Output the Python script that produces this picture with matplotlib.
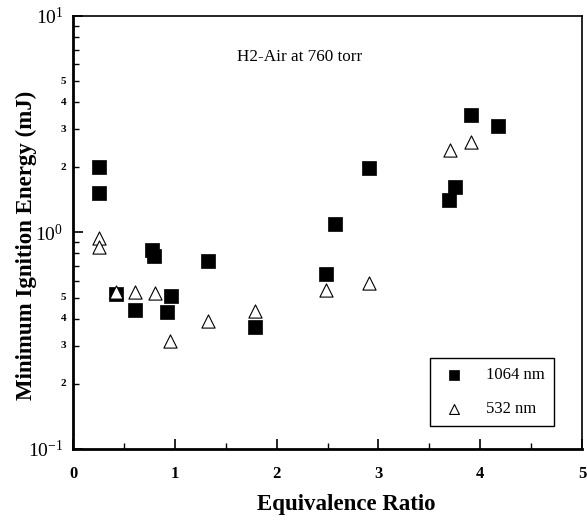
import matplotlib
matplotlib.use("Agg")
import matplotlib.pyplot as plt
from matplotlib.ticker import FixedLocator, NullFormatter

plt.rcParams['font.family'] = ['Liberation Serif', 'DejaVu Serif']
plt.rcParams['mathtext.fontset'] = 'custom'
plt.rcParams['mathtext.rm'] = 'Liberation Serif'

# 1064 nm (filled squares)
phi_1064 = [0.255, 0.255, 0.42, 0.61, 0.78, 0.80, 0.92, 0.96, 1.33, 1.79,
            2.49, 2.57, 2.91, 3.69, 3.75, 3.91, 4.17]
mie_1064 = [2.01, 1.52, 0.52, 0.44, 0.83, 0.78, 0.43, 0.51, 0.74, 0.366,
            0.64, 1.09, 1.99, 1.42, 1.62, 3.49, 3.10]

# 532 nm (open triangles)
phi_532 = [0.255, 0.255, 0.42, 0.61, 0.805, 0.956, 1.33, 1.79, 2.49, 2.91,
           3.70, 3.91]
mie_532 = [0.94, 0.86, 0.533, 0.533, 0.524, 0.315, 0.39, 0.435, 0.543, 0.585,
           2.40, 2.61]

x_ticks = [0, 1, 2, 3, 4, 5]
y_major = [0.1, 1, 10]
y_major_labels = [r'$\mathregular{10^{-1}}$', r'$\mathregular{10^{0}}$', r'$\mathregular{10^{1}}$']
y_small = [0.2, 0.3, 0.4, 0.5, 2, 3, 4, 5]
y_small_labels = ['2', '3', '4', '5', '2', '3', '4', '5']

fig = plt.figure(figsize=(5.87, 5.21), dpi=100)
ax = fig.add_axes([0.1244, 0.1382, 0.8671, 0.8311])

ax.scatter(phi_1064, mie_1064, marker='s', s=90, c='black', edgecolors='black',
           linewidths=0.5, label='1064 nm', zorder=3)
ax.scatter(phi_532, mie_532, marker='^', s=90, facecolors='white', edgecolors='black',
           linewidths=0.8, label='532 nm', zorder=4)

ax.set_yscale('log')
ax.set_xlim(0, 5)
ax.set_ylim(0.1, 10)

ax.set_xticks(x_ticks)
ax.set_xticklabels([str(v) for v in x_ticks], fontsize=12, fontweight='bold')
ax.xaxis.set_minor_locator(FixedLocator([0.5, 1.5, 2.5, 3.5, 4.5]))

ax.yaxis.set_major_locator(FixedLocator(y_major))
ax.set_yticklabels(y_major_labels, fontsize=14)
minors = [m * d for d in (0.1, 1) for m in range(2, 10)]
ax.yaxis.set_minor_locator(FixedLocator(minors))
ax.yaxis.set_minor_formatter(NullFormatter())
for v, lab in zip(y_small, y_small_labels):
    ax.annotate(lab, xy=(0, v), xycoords=ax.get_yaxis_transform(),
                xytext=(-5, 0), textcoords='offset points',
                ha='right', va='center', fontsize=8, fontweight='bold')

ax.tick_params(axis='both', which='major', direction='in', length=7, width=1.2,
               top=False, right=False)
ax.tick_params(axis='both', which='minor', direction='in', length=4, width=1.0,
               top=False, right=False)
ax.tick_params(axis='x', which='major', pad=12)
ax.tick_params(axis='y', which='major', pad=7)
for side in ['left', 'bottom']:
    ax.spines[side].set_linewidth(2)
for side in ['top', 'right']:
    ax.spines[side].set_linewidth(1.2)

ax.set_xlabel('Equivalence Ratio', fontsize=16.5, fontweight='bold')
ax.xaxis.set_label_coords(0.536, -0.105)
ax.set_ylabel('Minimum Ignition Energy (mJ)', fontsize=16.5, fontweight='bold')
ax.yaxis.set_label_coords(-0.07, 0.47)

ax.text(0.446, 0.905, 'H2-Air at 760 torr', transform=ax.transAxes, ha='center',
        va='center', fontsize=12.3)

leg = ax.legend(loc='lower right', bbox_to_anchor=(0.945, 0.053), fontsize=12,
                frameon=True, fancybox=False, edgecolor='black', framealpha=1,
                borderpad=0.55, labelspacing=1.05, handlelength=1.8,
                handletextpad=1.0, markerscale=0.75, borderaxespad=0)
leg.get_frame().set_linewidth(1.0)

fig.savefig('out.png', dpi=100)
